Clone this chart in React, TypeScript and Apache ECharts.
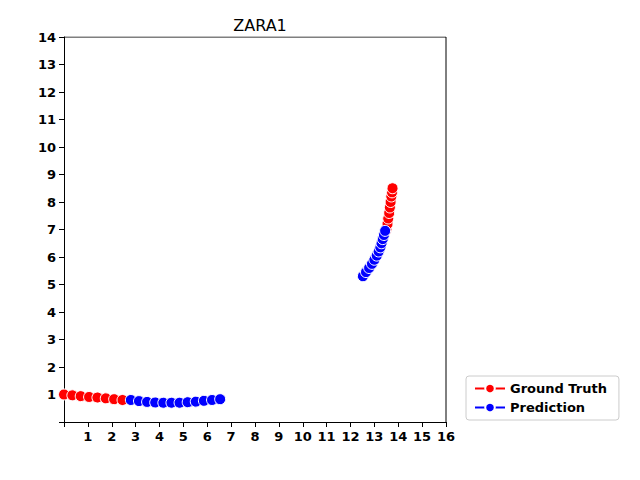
import { useEffect, useRef } from "react";
import * as echarts from "echarts";

const gtLeft = [
  [0.0, 1.0], [0.35, 0.97], [0.7, 0.94], [1.05, 0.91], [1.4, 0.89], [1.75, 0.86], [2.1, 0.83], [2.45, 0.8],
];
const gtRight = [
  [13.5, 7.0], [13.55, 7.2], [13.58, 7.4], [13.62, 7.6], [13.65, 7.8], [13.68, 8.0], [13.71, 8.2], [13.74, 8.35], [13.76, 8.5],
];
const predLeft = [
  [2.8, 0.8], [3.14, 0.76], [3.48, 0.73], [3.82, 0.71], [4.16, 0.7], [4.5, 0.7], [4.84, 0.7], [5.18, 0.72], [5.52, 0.74], [5.86, 0.77], [6.2, 0.8], [6.54, 0.83],
];
const predRight = [
  [12.52, 5.3], [12.65, 5.45], [12.78, 5.6], [12.9, 5.75], [13.0, 5.9], [13.1, 6.05], [13.18, 6.2], [13.25, 6.35], [13.3, 6.5], [13.35, 6.65], [13.4, 6.8], [13.45, 6.95],
];

function App() {
  const ref = useRef<HTMLDivElement>(null);

  useEffect(() => {
    const chart = echarts.init(ref.current, null, { renderer: "svg" });
    const font = "DejaVu Sans";
    const common = {
      type: "line",
      symbol: "circle",
      symbolSize: 11,
      lineStyle: { width: 2 },
      itemStyle: { borderColor: "#fff", borderWidth: 1 },
      z: 3,
    };
    chart.setOption({
      animation: false,
      textStyle: { fontFamily: font },
      title: {
        text: "ZARA1",
        left: 255,
        top: 12,
        textAlign: "center",
        textStyle: { fontSize: 16, fontWeight: "normal", color: "#000", fontFamily: font },
      },
      grid: { left: 64, right: 194, top: 37, bottom: 58 },
      xAxis: {
        type: "value", min: 0, max: 16, interval: 1,
        axisLine: { onZero: false, lineStyle: { color: "#000" } },
        axisTick: { lineStyle: { color: "#000" } },
        splitLine: { show: false },
        axisLabel: {
          color: "#000", fontWeight: "bold", fontSize: 13,
          formatter: (v: number) => (v === 0 ? "" : String(v)),
        },
      },
      yAxis: {
        type: "value", min: 0, max: 14, interval: 1,
        axisLine: { show: true, onZero: false, lineStyle: { color: "#000" } },
        axisTick: { show: true, lineStyle: { color: "#000" } },
        splitLine: { show: false },
        axisLabel: {
          color: "#000", fontWeight: "bold", fontSize: 13,
          formatter: (v: number) => (v === 0 ? "" : String(v)),
        },
      },
      legend: {
        orient: "vertical",
        left: 466,
        top: 376,
        padding: [6, 12, 6, 8],
        itemGap: 6,
        itemWidth: 30,
        itemHeight: 12,
        borderColor: "#ccc",
        borderWidth: 1,
        borderRadius: 3,
        textStyle: { fontWeight: "bold", fontSize: 13, color: "#000", fontFamily: font },
        data: ["Ground Truth", "Prediction"],
      },
      series: [
        { ...common, name: "Ground Truth", color: "#ff0000", data: gtLeft },
        { ...common, name: "Ground Truth", color: "#ff0000", data: gtRight },
        { ...common, name: "Prediction", color: "#0000ff", data: predLeft },
        { ...common, name: "Prediction", color: "#0000ff", data: predRight },
        {
          type: "line", data: [[0, 14], [16, 14], [16, 0]], symbol: "none", silent: true,
          lineStyle: { color: "#000", width: 1 }, z: 1,
        },
      ],
    });
    return () => chart.dispose();
  }, []);

  return <div ref={ref} style={{ width: 640, height: 480, margin: -8 }} />;
}

export default App;
